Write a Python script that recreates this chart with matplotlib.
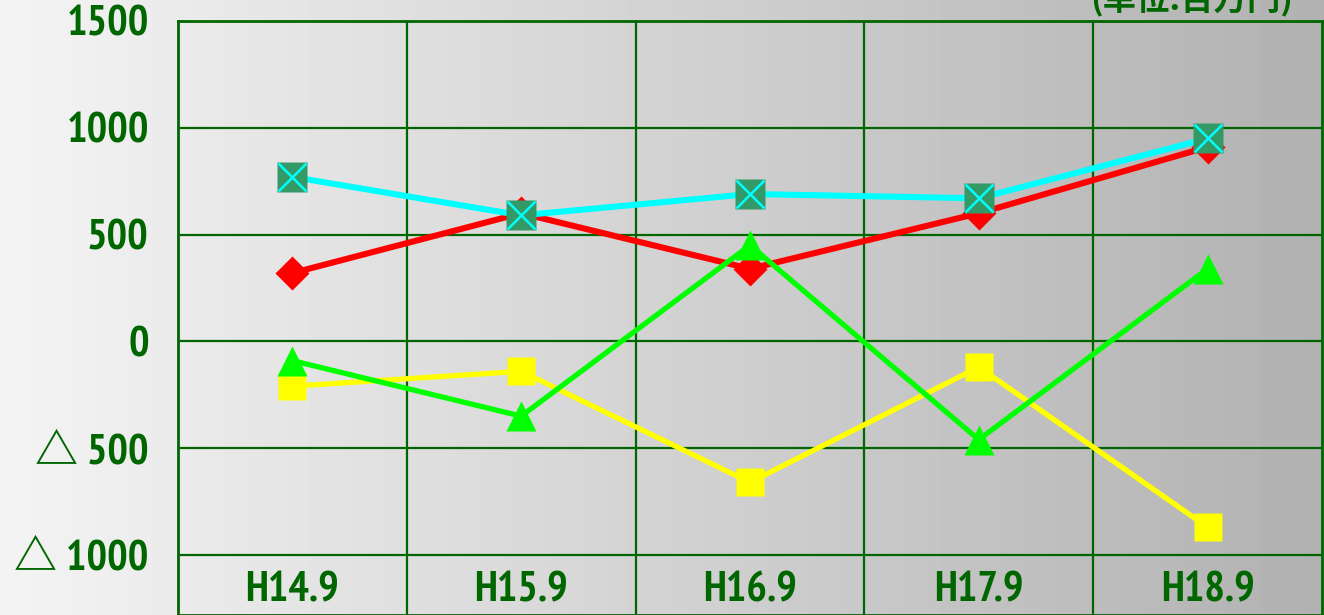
import matplotlib
matplotlib.use('Agg')
import matplotlib.pyplot as plt
import numpy as np

# 年度 (平成) と各系列の値 (単位:百万円)
periods = ['H14.9', 'H15.9', 'H16.9', 'H17.9', 'H18.9']
red_vals = [320, 600, 340, 600, 910]
cyan_vals = [770, 590, 690, 670, 950]
yellow_vals = [-210, -140, -660, -120, -870]
green_vals = [-90, -350, 450, -460, 340]

y_ticks = [1500, 1000, 500, 0, -500, -1000]
y_tick_labels = ['1500', '1000', '500', '0', '△ 500', '△ 1000']

dark_green = '#006600'
# 細身のフォントが無い環境では CJK フォントにフォールバック
label_font = ['PT Sans Narrow', 'Roboto Condensed', 'Archivo Narrow',
              'Noto Sans CJK JP', 'DejaVu Sans']

fig = plt.figure(figsize=(13.24, 6.15), dpi=100)

# 背景のグラデーション (左が明るく右が暗い)
bg = fig.add_axes([0, 0, 1, 1], zorder=-10)
grad = np.linspace(0.955, 0.695, 256).reshape(1, -1)
bg.imshow(grad, cmap='gray', vmin=0, vmax=1, aspect='auto', extent=[0, 1, 0, 1])
bg.set_axis_off()

ax = fig.add_axes([178 / 1324, 0, 1144 / 1324, 1 - 21 / 615])
ax.set_facecolor('none')
ax.set_xlim(-0.5, len(periods) - 0.5)
ax.set_ylim(-1281, 1500)

for v in y_ticks:
    ax.axhline(v, color=dark_green, lw=1.6, zorder=1)
for k in range(1, len(periods)):
    ax.axvline(k - 0.5, color=dark_green, lw=1.6, zorder=1)
for s in ax.spines.values():
    s.set_color(dark_green)
    s.set_linewidth(2)

x = np.arange(len(periods))

ax.plot(x, yellow_vals, color='#ffff00', lw=3.8, marker='s', ms=20,
        mfc='#ffff00', mec='none', zorder=3)
ax.plot(x, red_vals, color='#ff0000', lw=4.4, marker='D', ms=17,
        mfc='#ff0000', mec='none', zorder=4)
ax.plot(x, cyan_vals, color='#00ffff', lw=4.4, marker='s', ms=21,
        mfc='#339966', mec='none', zorder=5)
ax.plot(x, cyan_vals, ls='none', marker='x', ms=20, mec='#00ffff',
        mew=1.8, zorder=6)
ax.plot(x, green_vals, color='#00ff00', lw=3.8, marker='^', ms=22,
        mfc='#00ff00', mec='none', zorder=7)

ax.set_xticks([])
ax.set_yticks(y_ticks)
ax.set_yticklabels(y_tick_labels)
ax.tick_params(axis='y', length=0, pad=21, labelcolor=dark_green)
for lbl in ax.get_yticklabels():
    lbl.set_family(label_font)
    lbl.set_fontsize(31)
    lbl.set_fontweight('bold')

for i, p in enumerate(periods):
    ax.text(i, -1170, p, ha='center', va='center', color=dark_green,
            fontsize=31, fontweight='bold', family=label_font)

fig.text(1293 / 1324, 1 - 9 / 615, '(単位:百万円)', ha='right', va='baseline',
         color=dark_green, fontsize=24, fontweight='bold',
         family=['Noto Sans CJK JP', 'DejaVu Sans'])

fig.savefig('out.png', dpi=100)
